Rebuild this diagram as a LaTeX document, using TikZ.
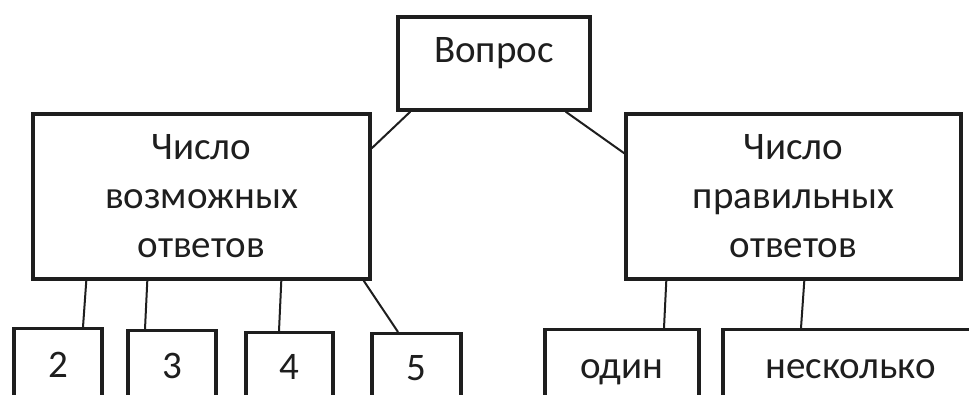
\documentclass[tikz,border=0pt]{standalone}
\usepackage{fontspec}
\setmainfont{Carlito}
\definecolor{ink}{RGB}{30,30,30}
\tikzset{
  box/.style={draw=ink, line width=3.4pt, rectangle, inner sep=0pt, align=center,
    font=\fontsize{39}{49}\selectfont, text=ink},
  leaf/.style={box, anchor=north, text height=25pt, text depth=0pt},
  link/.style={draw=ink, line width=2pt}
}
\begin{document}
\begin{tikzpicture}[x=1pt,y=-1pt]
\clip (0,0) rectangle (969,394);
\fill[white] (0,0) rectangle (969,394);
\node[box, minimum width=192pt, minimum height=93pt, text height=15pt, text depth=18pt] (q) at (494,63.5) {Вопрос};
\node[box, minimum width=337pt, minimum height=165pt] (L) at (201.5,196.5) {Число\\возможных\\ответов};
\node[box, minimum width=335pt, minimum height=165pt] (R) at (793.5,196.5) {Число\\правильных\\ответов};
\node[leaf, minimum width=88pt, minimum height=73pt] (b2) at (58,327) {2};
\node[leaf, minimum width=88pt, minimum height=71pt] (b3) at (172,329) {3};
\node[leaf, minimum width=87pt, minimum height=69pt] (b4) at (289.5,331) {4};
\node[leaf, minimum width=89pt, minimum height=68pt] (b5) at (416.5,332) {5};
\node[leaf, minimum width=154pt, minimum height=72pt] (one) at (622,328) {один};
\node[leaf, minimum width=255pt, minimum height=72pt] (many) at (850.5,328) {несколько};
\draw[link] ([xshift=14pt]q.south west) -- ([yshift=-36pt]L.north east);
\draw[link] ([xshift=-26pt]q.south east) -- ([yshift=-41pt]R.north west);
\draw[link] ([xshift=55pt]L.south west) -- ([xshift=25pt]b2.north);
\draw[link] ([xshift=116pt]L.south west) -- ([xshift=-27pt]b3.north);
\draw[link] ([xshift=250pt]L.south west) -- ([xshift=-10.5pt]b4.north);
\draw[link] ([xshift=-8pt]L.south east) -- ([xshift=-18.5pt]b5.north);
\draw[link] ([xshift=42pt]R.south west) -- ([xshift=42pt]one.north);
\draw[link] ([xshift=180pt]R.south west) -- ([xshift=-49.5pt]many.north);
\end{tikzpicture}
\end{document}
